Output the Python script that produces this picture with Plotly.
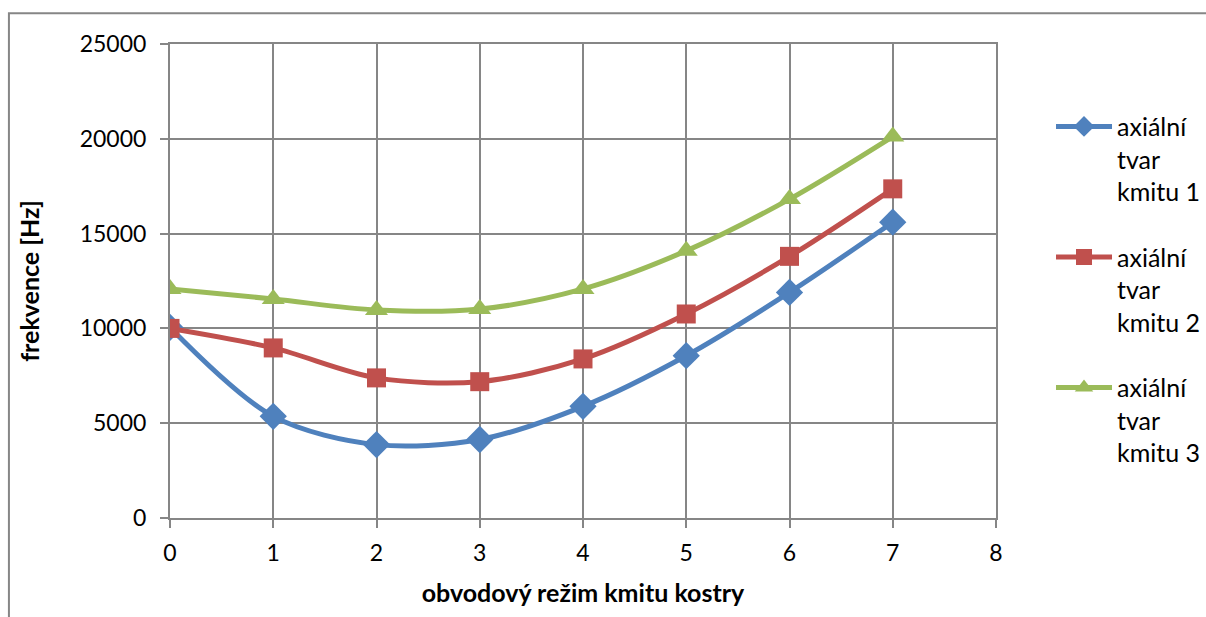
import plotly.graph_objects as go

# Circumferential mode number of the frame
modes = [0, 1, 2, 3, 4, 5, 6, 7]

# Natural frequencies [Hz] for the first three axial mode shapes
axial_1 = [10050, 5360, 3870, 4140, 5890, 8560, 11900, 15600]
axial_2 = [10000, 8970, 7390, 7190, 8390, 10760, 13800, 17360]
axial_3 = [12080, 11550, 10970, 11020, 12080, 14090, 16820, 20120]

series_names = ["axiální<br>tvar<br>kmitu 1", "axiální<br>tvar<br>kmitu 2", "axiální<br>tvar<br>kmitu 3"]
series_values = [axial_1, axial_2, axial_3]
colors = ["#4F81BD", "#C0504D", "#9BBB59"]
symbols = ["diamond", "square", "triangle-up"]
marker_sizes = [21, 19, 20]

FONT = "Lato"
GRID = "#868686"

fig = go.Figure()
for i, (name, vals) in enumerate(zip(series_names, series_values)):
    fig.add_trace(go.Scatter(
        x=modes, y=vals, name=name, mode="lines+markers",
        legendgroup=f"g{i}",
        line=dict(color=colors[i], width=5, shape="spline", smoothing=0.9),
        marker=dict(symbol=symbols[i], size=marker_sizes[i], color=colors[i]),
    ))

axis_common = dict(
    showgrid=True, gridcolor=GRID, gridwidth=2,
    showline=True, linecolor=GRID, linewidth=2, mirror=True,
    ticks="outside", ticklen=8, tickwidth=2, tickcolor=GRID,
    zeroline=False,
    tickfont=dict(family=FONT, size=23, color="black"),
)

fig.update_layout(
    width=1206, height=617,
    margin=dict(l=170, r=210, t=44, b=98.5, autoexpand=False),
    paper_bgcolor="white", plot_bgcolor="white",
    font=dict(family=FONT, color="black"),
    xaxis=dict(range=[0, 8], dtick=1, tick0=0, ticklabelstandoff=5,
               title=dict(text="<b>obvodový režim kmitu kostry</b>",
                          font=dict(family=FONT, size=25), standoff=20),
               **axis_common),
    yaxis=dict(range=[0, 25000], dtick=5000, tick0=0, tickformat="d",
               ticklabelstandoff=9,
               title=dict(text="<b>frekvence [Hz]</b>",
                          font=dict(family=FONT, size=25), standoff=33),
               **axis_common),
    legend=dict(x=1.0666, y=0.874, xanchor="left", yanchor="top",
                font=dict(family=FONT, size=25, color="black"),
                traceorder="grouped", tracegroupgap=30, valign="top",
                itemwidth=56,
                bgcolor="rgba(0,0,0,0)"),
    showlegend=True,
)

# Outer chart frame (runs off the right and bottom edges)
fig.add_shape(type="rect", xref="paper", yref="paper",
              x0=-0.195, x1=1.5, y0=-0.5, y1=1.065,
              line=dict(color=GRID, width=2), layer="below")

fig.write_html("out.html")
